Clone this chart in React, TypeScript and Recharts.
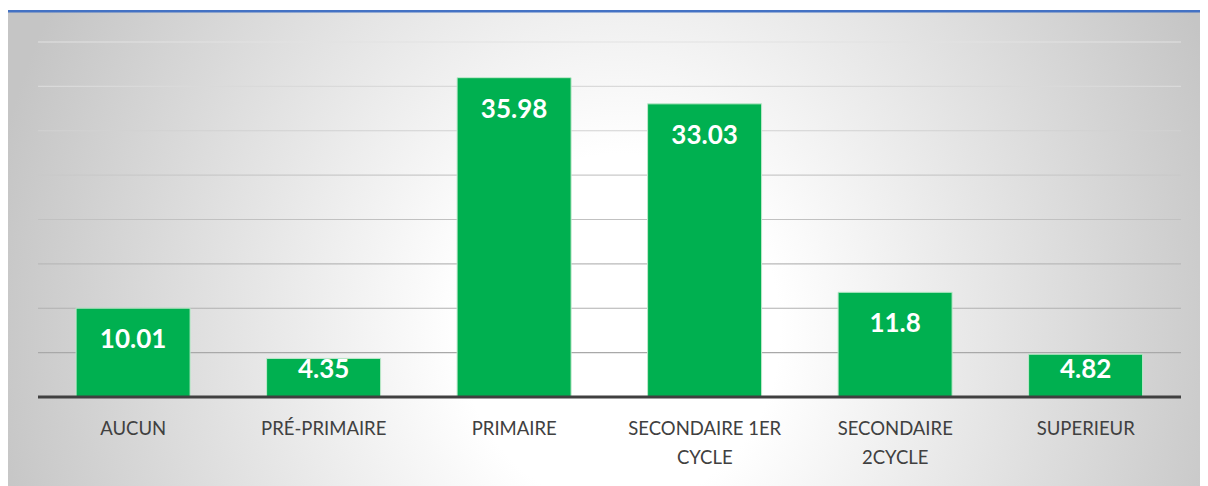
import { Bar, BarChart, CartesianGrid, LabelList, Text, XAxis, YAxis } from "recharts";

const categories = ["AUCUN", "PRÉ-PRIMAIRE", "PRIMAIRE", "SECONDAIRE 1ER CYCLE", "SECONDAIRE 2CYCLE", "SUPERIEUR"];
const values = [10.01, 4.35, 35.98, 33.03, 11.8, 4.82];
const yTicks = [0, 5, 10, 15, 20, 25, 30, 35, 40];

const data = categories.map((name, i) => ({ name, value: values[i] }));

const W = 1200;
const H = 478;
const FONT = "Lato, 'Open Sans', sans-serif";

function CategoryTick({ x, y, payload }: any) {
  return (
    <Text
      x={x}
      y={y + 25}
      width={150}
      textAnchor="middle"
      verticalAnchor="start"
      lineHeight={28.5}
      fill="#404040"
      fontSize={18.5}
      style={{ fontFamily: FONT, fontSize: 18.5 }}
    >
      {payload.value}
    </Text>
  );
}

function ValueLabel({ x, y, width, height, value }: any) {
  // inside end, but pushed up from the base when the bar is short
  const cy = Math.min(y + 30, y + height - 29.5);
  return (
    <text
      x={x + width / 2}
      y={cy}
      textAnchor="middle"
      dominantBaseline="central"
      fill="#ffffff"
      fontWeight={700}
      fontSize={26}
      style={{ fontFamily: FONT }}
    >
      {value}
    </text>
  );
}

export default function App() {
  return (
    <div style={{ position: "relative", width: W, height: H }}>
      <svg width={W} height={H} style={{ position: "absolute", left: 0, top: 0 }}>
        <defs>
          <radialGradient
            id="bgGlow"
            gradientUnits="userSpaceOnUse"
            cx={612}
            cy={322}
            r={640}
            gradientTransform="translate(612 322) scale(1 1.1) translate(-612 -322)"
          >
            <stop offset="0%" stopColor="#ffffff" />
            <stop offset="25%" stopColor="#ffffff" />
            <stop offset="100%" stopColor="#c5c5c5" />
          </radialGradient>
        </defs>
        <rect x={0} y={4} width={W} height={H - 4} fill="url(#bgGlow)" />
        <rect x={0} y={2} width={W} height={2.5} fill="#4472c4" />
      </svg>
      <BarChart
        width={W}
        height={H}
        data={data}
        margin={{ top: 34, right: 27, left: 30, bottom: 0 }}
        barCategoryGap="20%"
        style={{ position: "absolute", left: 0, top: 0 }}
      >
        <defs>
          <linearGradient id="gridShade" gradientUnits="userSpaceOnUse" x1={0} y1={34} x2={0} y2={389}>
            <stop offset="0%" stopColor="#e2e2e2" />
            <stop offset="100%" stopColor="#a0a0a0" />
          </linearGradient>
        </defs>
        <CartesianGrid vertical={false} stroke="url(#gridShade)" strokeWidth={1.2} />
        <YAxis hide domain={[0, 40]} ticks={yTicks} />
        <XAxis
          dataKey="name"
          height={89}
          axisLine={{ stroke: "#404040", strokeWidth: 3 }}
          tickLine={false}
          tickSize={0}
          tickMargin={0}
          interval={0}
          tick={<CategoryTick />}
        />
        <Bar dataKey="value" fill="#00b050" stroke="#bfe9cb" strokeWidth={1} isAnimationActive={false}>
          <LabelList dataKey="value" content={<ValueLabel />} />
        </Bar>
      </BarChart>
    </div>
  );
}
